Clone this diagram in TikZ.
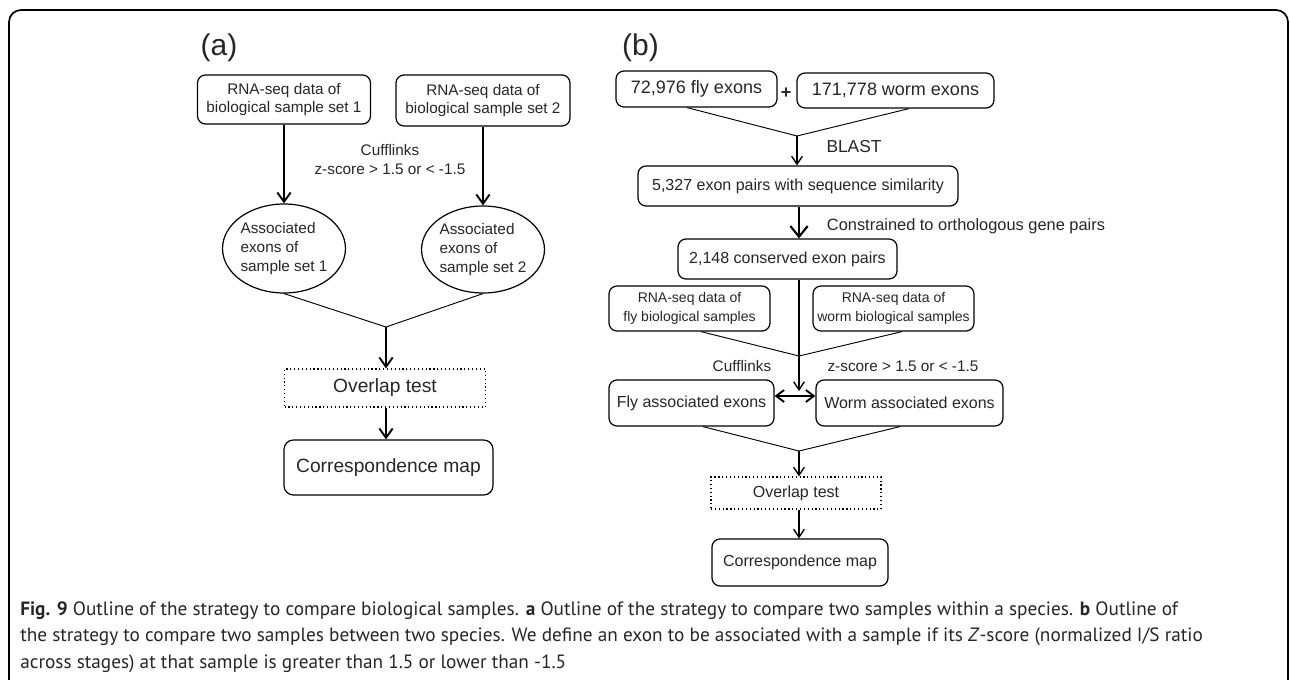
\documentclass[tikz,border=0pt]{standalone}
\usepackage{fontspec}
\setmainfont{Liberation Sans}
\newfontfamily\capfont{PT Sans}
\usetikzlibrary{arrows.meta,shapes.geometric,positioning}

\tikzset{
  box/.style={draw,rounded corners=6pt,line width=0.9pt,align=center,inner sep=0pt,text=black!85},
  dotbox/.style={draw,dotted,line width=0.9pt,align=center,inner sep=0pt,text=black!85},
  oval/.style={draw,ellipse,line width=0.9pt,align=left,inner sep=0pt,text=black!85},
  lbl/.style={align=center,inner sep=0pt,text=black!85},
  mergeline/.style={line width=0.7pt},
  flow/.style={-{Straight Barb[length=7pt,width=10pt]},line width=1.4pt},
  flowb/.style={-{Straight Barb[length=6pt,width=8pt]},line width=1pt},
  flowc/.style={-{Straight Barb[length=8pt,width=13pt]},line width=1.6pt},
  dblflow/.style={{Straight Barb[length=6pt,width=9pt]}-{Straight Barb[length=6pt,width=9pt]},line width=1.4pt},
}

\begin{document}
\begin{tikzpicture}[x=0.75pt,y=-0.75pt]
\useasboundingbox (0,0) rectangle (1290,679);
\begin{scope}
\clip (0,0) rectangle (1290,679);
\draw[line width=1.3pt,rounded corners=9pt] (9,720) -- (9,10) -- (1288,10) -- (1288,720);
\end{scope}

% (a) within one species
\node[lbl,font=\fontsize{22.5}{27}\selectfont] (labA) at (219,48) {(a)};
\node[box,minimum width=129.75pt,minimum height=36.75pt,font=\fontsize{11.5}{13.5}\selectfont] (setA) at (284,99.5) {RNA-seq data of\\biological sample set 1};
\node[box,minimum width=130.5pt,minimum height=38.25pt,font=\fontsize{11.5}{13.5}\selectfont] (setB) at (483,100.5) {RNA-seq data of\\biological sample set 2};
\node[lbl,font=\fontsize{11.5}{14.25}\selectfont] (cuffA) at (390,159.5) {Cufflinks\\z-score > 1.5 or < -1.5};
\node[oval,minimum width=91.5pt,minimum height=66.75pt,font=\fontsize{11.5}{13.9}\selectfont] (assA) at (284,248.5) {Associated\\exons of\\sample set 1};
\node[oval,minimum width=90.75pt,minimum height=65.25pt,font=\fontsize{11.5}{13.9}\selectfont] (assB) at (483,249.5) {Associated\\exons of\\sample set 2};
\coordinate (mergeA) at (386,327);
\node[dotbox,minimum width=150.75pt,minimum height=28.5pt,font=\fontsize{14.4}{17}\selectfont] (ovlA) at (385,388) {Overlap test};
\node[box,rounded corners=7pt,minimum width=156.75pt,minimum height=41.25pt,font=\fontsize{14.4}{17}\selectfont] (mapA) at (388.5,467.5) {\raisebox{-3pt}{Correspondence map}};

\draw[flow] (setA.south) -- (setA.south |- assA.north);
\draw[flow] (setB.south) -- (setB.south |- assB.north);
\draw[mergeline] (assA.south) -- (mergeA) -- (assB.south);
\draw[flow] (mergeA) -- (mergeA |- ovlA.north);
\draw[flow] (ovlA.south -| mergeA) -- (mergeA |- mapA.north);

% (b) between two species
\node[lbl,font=\fontsize{22.5}{27}\selectfont] (labB) at (640.5,48) {(b)};
\node[box,minimum width=120.75pt,minimum height=27pt,font=\fontsize{13.5}{16}\selectfont] (flyE) at (696.5,89) {72,976 fly exons};
\node[lbl,font=\bfseries\fontsize{13.5}{16}\selectfont] (plus) at (786,93) {+};
\node[box,minimum width=147.75pt,minimum height=26.25pt,font=\fontsize{13.5}{16}\selectfont] (wormE) at (895.5,90.5) {171,778 worm exons};
\coordinate (mergeB1) at (797,136);
\node[lbl,font=\fontsize{13}{15}\selectfont] (blast) at (854,147) {BLAST};
\node[box,minimum width=240pt,minimum height=30pt,font=\fontsize{12}{14}\selectfont] (pairs) at (798,186) {5,327 exon pairs with sequence similarity};
\node[lbl,font=\fontsize{12.3}{14}\selectfont] (constr) at (966,226) {Constrained to orthologous gene pairs};
\node[box,minimum width=164.25pt,minimum height=30pt,font=\fontsize{12}{14}\selectfont] (cons) at (787.5,259) {2,148 conserved exon pairs};
\node[box,minimum width=120.75pt,minimum height=33.75pt,font=\fontsize{10.5}{14}\selectfont] (rnaF) at (689.5,308.5) {RNA-seq data of\\fly biological samples};
\node[box,minimum width=120.75pt,minimum height=33.75pt,font=\fontsize{10.5}{14}\selectfont] (rnaW) at (893.5,308.5) {RNA-seq data of\\worm biological samples};
\coordinate (mergeB2) at (799,356);
\coordinate (tipB) at (799,391);
\node[lbl,font=\fontsize{11.5}{14}\selectfont] (cuffB) at (742,366) {Cufflinks};
\node[lbl,font=\fontsize{11.5}{14}\selectfont] (zscB) at (903,366) {z-score > 1.5 or < -1.5};
\node[box,minimum width=123.75pt,minimum height=34.5pt,font=\fontsize{12}{14}\selectfont] (flyA) at (691.5,403) {Fly associated exons};
\node[box,minimum width=140.25pt,minimum height=34.5pt,font=\fontsize{12}{14}\selectfont] (wormA) at (909.5,403) {Worm associated exons};
\coordinate (dbl) at (799,396);
\coordinate (mergeB3) at (799,451);
\node[dotbox,minimum width=127.5pt,minimum height=24pt,font=\fontsize{12}{14}\selectfont] (ovlB) at (796,493) {Overlap test};
\node[box,minimum width=132pt,minimum height=35.25pt,font=\fontsize{12}{14}\selectfont] (mapB) at (800,562.5) {Correspondence map};

\draw[mergeline] ([xshift=-7.1pt]flyE.south) -- (mergeB1) -- ([xshift=10.1pt]wormE.south);
\draw[flowb] (mergeB1) -- (mergeB1 |- pairs.north);
\draw[flowc] (pairs.south -| mergeB2) -- (mergeB2 |- cons.north);
\draw[mergeline] ([xshift=8.6pt]rnaF.south) -- (mergeB2) -- ([xshift=6.4pt]rnaW.south);
\draw[flowb] (cons.south -| mergeB2) -- (tipB);
\draw[dblflow] (dbl -| flyA.east) -- (dbl -| wormA.west);
\draw[mergeline] ([xshift=8.6pt]flyA.south) -- (mergeB3) -- ([xshift=-7.1pt]wormA.south);
\draw[flowb] (mergeB3) -- (mergeB3 |- ovlB.north);
\draw[flowb] (ovlB.south -| mergeB3) -- (mergeB3 |- mapB.north);

% caption
\node[anchor=west,align=left,inner sep=0pt,text=black!85,font=\capfont\fontsize{14.45}{19.9}\selectfont] (cap) at (20,637) {\textbf{Fig. 9} Outline of the strategy to compare biological samples. \textbf{a} Outline of the strategy to compare two samples within a species. \textbf{b} Outline of\\the strategy to compare two samples between two species. We define an exon to be associated with a sample if its \textit{Z}-score (normalized I/S ratio\\across stages) at that sample is greater than 1.5 or lower than -1.5};
\end{tikzpicture}
\end{document}
